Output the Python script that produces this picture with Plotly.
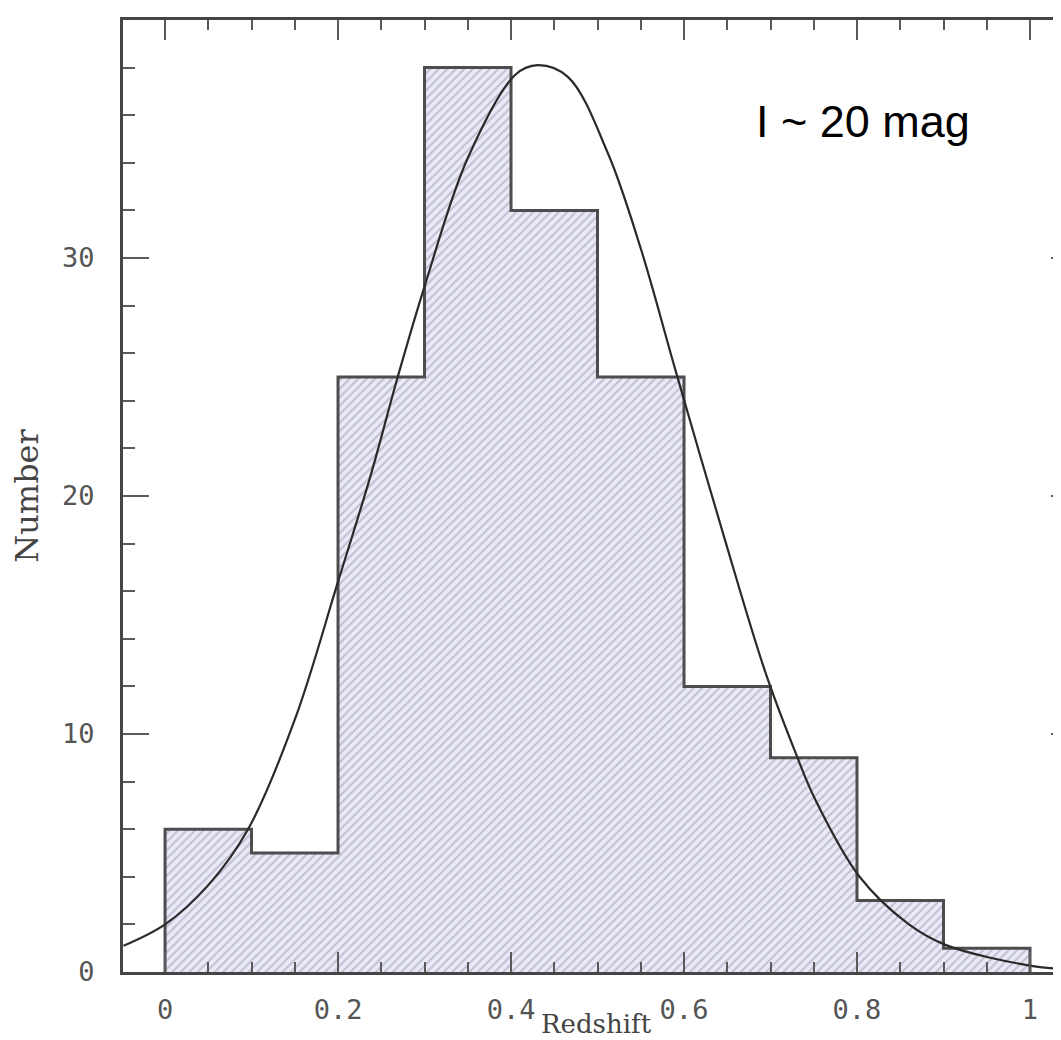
import plotly.graph_objects as go

# ---- data ----
bin_edges = [0.0, 0.1, 0.2, 0.3, 0.4, 0.5, 0.6, 0.7, 0.8, 0.9, 1.0]
counts = [6, 5, 25, 38, 32, 25, 12, 9, 3, 1]

curve_z = [-0.048, 0.0, 0.05, 0.096, 0.15, 0.2, 0.238, 0.269, 0.30, 0.35,
           0.405, 0.431, 0.466, 0.512, 0.55, 0.59, 0.647, 0.694, 0.728,
           0.751, 0.803, 0.86, 0.903, 1.003, 1.045]
curve_n = [1.1, 2.0, 3.65, 6.0, 10.6, 16.4, 20.9, 25.0, 28.8, 34.2,
           37.7, 38.1, 37.6, 34.4, 30.4, 25.3, 18.2, 12.6, 9.3,
           7.3, 4.0, 2.0, 1.13, 0.25, 0.12]

x_ticks = [0, 0.2, 0.4, 0.6, 0.8, 1]
x_ticklabels = ["0", "0.2", "0.4", "0.6", "0.8", "1"]
y_ticks = [0, 10, 20, 30]
y_ticklabels = ["0", "10", "20", "30"]

label_text = "I ~ 20 mag"
x_title = "Redshift"
y_title = "Number"

# ---- derived ----
centers = [(bin_edges[i] + bin_edges[i + 1]) / 2 for i in range(len(counts))]
widths = [bin_edges[i + 1] - bin_edges[i] for i in range(len(counts))]
step_x = [bin_edges[0]] + bin_edges[:-1] + [bin_edges[-1]]
step_y = [0] + counts + [0]

W, H = 1061, 1040
ML, MR, MT, MB = 115, 0, 12, 76
plot_h = H - MT - MB

axis_col = "#454545"
tick_col = "#5a5a5a"
lab_font = dict(family="DejaVu Sans Mono", size=27, color="#555555")

fig = go.Figure()

fig.add_trace(go.Bar(
    x=centers, y=counts, width=widths,
    marker=dict(
        color="#e4e4f4",
        line=dict(width=0),
        pattern=dict(shape="/", fgcolor="#9494ab", bgcolor="#e9e9f7",
                     size=6, solidity=0.33),
    ),
    showlegend=False, hoverinfo="skip",
))

fig.add_trace(go.Scatter(
    x=step_x, y=step_y, mode="lines", line_shape="hv",
    line=dict(color="#4d4d4d", width=3),
    showlegend=False, hoverinfo="skip",
))

fig.add_trace(go.Scatter(
    x=curve_z, y=curve_n, mode="lines", line_shape="spline",
    line=dict(color="#2a2a2a", width=2.2, smoothing=1.0),
    showlegend=False, hoverinfo="skip",
))

# invisible trace to create right-side tick axis
fig.add_trace(go.Scatter(
    x=[0], y=[0], yaxis="y2", mode="markers", marker=dict(opacity=0),
    showlegend=False, hoverinfo="skip",
))

x_left = -0.0486
x_right = 1.0451

fig.update_layout(
    width=W, height=H,
    margin=dict(l=ML, r=MR, t=MT, b=MB, pad=0, autoexpand=False),
    paper_bgcolor="white", plot_bgcolor="white",
    bargap=0,
    xaxis=dict(
        range=[x_left, x_right], domain=[0, 1], automargin=False,
        tickvals=x_ticks, ticktext=x_ticklabels,
        ticks="inside", ticklen=20, tickwidth=2, tickcolor=tick_col,
        minor=dict(dtick=0.05, tick0=0, ticks="inside", ticklen=10,
                   tickwidth=2, tickcolor=tick_col),
        showline=True, linecolor=axis_col, linewidth=3, mirror="ticks",
        showgrid=False, zeroline=False,
        tickfont=lab_font, ticklabelstandoff=12,
    ),
    yaxis=dict(
        range=[0, 40], automargin=False,
        tickvals=y_ticks, ticktext=y_ticklabels,
        ticks="inside", ticklen=26, tickwidth=2, tickcolor=tick_col,
        minor=dict(dtick=2, tick0=0, ticks="inside", ticklen=12,
                   tickwidth=2, tickcolor=tick_col),
        showline=True, linecolor=axis_col, linewidth=3, mirror=False,
        showgrid=False, zeroline=False,
        tickfont=lab_font, ticklabelstandoff=20,
        title=dict(text=y_title, standoff=20,
                   font=dict(family="DejaVu Serif", size=32, color="#444444")),
    ),
    yaxis2=dict(
        range=[0, 40], overlaying="y", side="right", automargin=False,
        tickvals=y_ticks, ticks="inside", ticklen=18, tickwidth=2,
        tickcolor=tick_col,
        minor=dict(dtick=2, tick0=0, ticks="inside", ticklen=9,
                   tickwidth=2, tickcolor=tick_col),
        showticklabels=False, showline=False, showgrid=False, zeroline=False,
    ),
    annotations=[
        dict(
            text=label_text, x=0.681, y=35.75, xref="x", yref="y",
            xanchor="left", yanchor="middle", showarrow=False,
            font=dict(family="Liberation Sans", size=45, color="#000000"),
        ),
        dict(
            text=x_title, x=0.5, xref="paper", y=-(MB - 8) / plot_h,
            yref="paper", xanchor="center", yanchor="bottom",
            showarrow=False, borderpad=0,
            font=dict(family="DejaVu Serif", size=26, color="#444444"),
        ),
    ],
)

fig.write_html("out.html")
